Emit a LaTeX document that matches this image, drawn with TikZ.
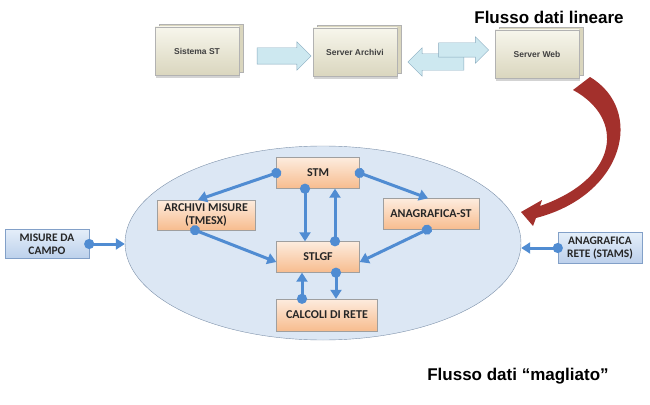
\documentclass[tikz,border=0pt]{standalone}
\usepackage{fontspec}
\setmainfont{Liberation Sans}
\newfontfamily\boxfont{Carlito}
\usetikzlibrary{arrows.meta,shapes.arrows,shapes.geometric,shadows}

\definecolor{linkblue}{RGB}{80,140,210}
\definecolor{ellfill}{RGB}{220,231,244}
\definecolor{ellborder}{RGB}{125,145,170}
\definecolor{peachtop}{RGB}{253,236,222}
\definecolor{peachbot}{RGB}{247,188,142}
\definecolor{extop}{RGB}{228,238,249}
\definecolor{exbot}{RGB}{188,208,235}
\definecolor{exborder}{RGB}{130,160,200}
\definecolor{beigetop}{RGB}{247,246,236}
\definecolor{beigebot}{RGB}{218,214,190}
\definecolor{arrfill}{RGB}{205,232,240}
\definecolor{arrborder}{RGB}{135,170,190}
\definecolor{flowred}{RGB}{163,48,44}

\tikzset{
  procbox/.style={draw=gray!75, top color=peachtop, bottom color=peachbot,
    font=\boxfont\bfseries\fontsize{12}{13}\selectfont, text=black!85,
    align=center, inner sep=0pt, minimum width=83pt, minimum height=31pt},
  extbox/.style={draw=exborder, top color=extop, bottom color=exbot,
    font=\boxfont\bfseries\fontsize{11.5}{13}\selectfont, text=black!85,
    align=center, inner sep=0pt, minimum width=84pt, minimum height=29pt},
  serverbox/.style={draw=gray!60, top color=beigetop, bottom color=beigebot,
    font=\bfseries\fontsize{8.5}{10}\selectfont, text=black!75,
    minimum width=84pt, minimum height=48pt,
    drop shadow={shadow xshift=1pt,shadow yshift=-3pt,opacity=0.35},
    copy shadow={shadow xshift=4pt,shadow yshift=3pt,fill=beigebot,draw=gray!60}},
  blockarr/.style={single arrow, draw=arrborder, fill=arrfill,
    inner xsep=0pt, inner ysep=8pt,
    minimum height=54pt, single arrow head extend=6pt},
  link/.style={linkblue, line width=3pt, shorten <=-5pt,
    {Circle[length=10pt]}-{Triangle[length=9pt,width=11pt]}},
  title/.style={font=\bfseries\fontsize{17}{19}\selectfont}
}

\begin{document}
\begin{tikzpicture}[x=1pt,y=-1pt]
    %\draw[very thin,color=gray] (0,0) grid[step=50] (650,404);
    \useasboundingbox (0,0) rectangle (650,404);

    % flusso lineare
    \node[title] (tlin) at (549,17) {Flusso dati lineare};
    \node[serverbox] (sist) at (197,51) {Sistema ST};
    \node[serverbox] (sarch) at (355,52) {Server Archivi};
    \node[serverbox] (sweb) at (537,54) {Server Web};
    \node[blockarr] (a1) at (280,56) {};
    \node[blockarr, shape border rotate=180, minimum height=56pt] (a2) at (440,62) {};
    \node[blockarr, minimum height=50pt, inner ysep=7pt] (a3) at (460,50) {};

    \fill[flowred] (573,90) -- (590,77) .. controls (645,110) and (625,195) .. (536,218)
        -- (533,226) -- (521,212) -- (542,200) -- (540,206)
        .. controls (620,178) and (625,118) .. (573,90) -- cycle;

    % flusso magliato
    \node[ellipse, draw=ellborder, fill=ellfill, minimum width=396pt, minimum height=194pt] (mesh) at (323,243) {};
    \node[procbox] (stm) at (318,173) {STM};
    \node[procbox, minimum width=98pt, minimum height=30pt] (archmis) at (206,215) {ARCHIVI MISURE\\(TMESX)};
    \node[procbox, minimum width=96pt] (anagst) at (431,214) {ANAGRAFICA-ST};
    \node[procbox] (stlgf) at (318,257) {STLGF};
    \node[procbox, minimum width=101pt, minimum height=32pt] (calc) at (327,315) {CALCOLI DI RETE};
    \node[extbox] (misure) at (47,244) {MISURE DA\\CAMPO};
    \node[extbox, minimum height=31pt] (anagrete) at (600,248) {ANAGRAFICA\\RETE (STAMS)};
    \node[title] (tmag) at (518,376) {Flusso dati “magliato”};

    \draw[link] (stm.west) -- ([xshift=-8pt]archmis.north);
    \draw[link] (stm.east) -- ([xshift=-3pt]anagst.north);
    \draw[link] ([xshift=-13pt]stm.south) -- ([xshift=-13pt]stlgf.north);
    \draw[link] ([xshift=17pt]stlgf.north) -- ([xshift=17pt]stm.south);
    \draw[link] ([xshift=-11pt]archmis.south) -- ([yshift=-5pt]stlgf.west);
    \draw[link] ([xshift=-4pt]anagst.south) -- ([yshift=-5pt]stlgf.east);
    \draw[link] ([xshift=-25pt]calc.north) -- ([xshift=-16pt]stlgf.south);
    \draw[link] ([xshift=18pt]stlgf.south) -- ([xshift=9pt]calc.north);
    \draw[link] (misure.east) -- (misure.east -| mesh.west);
    \draw[link] (anagrete.west) -- (anagrete.west -| mesh.east);

\end{tikzpicture}
\end{document}
